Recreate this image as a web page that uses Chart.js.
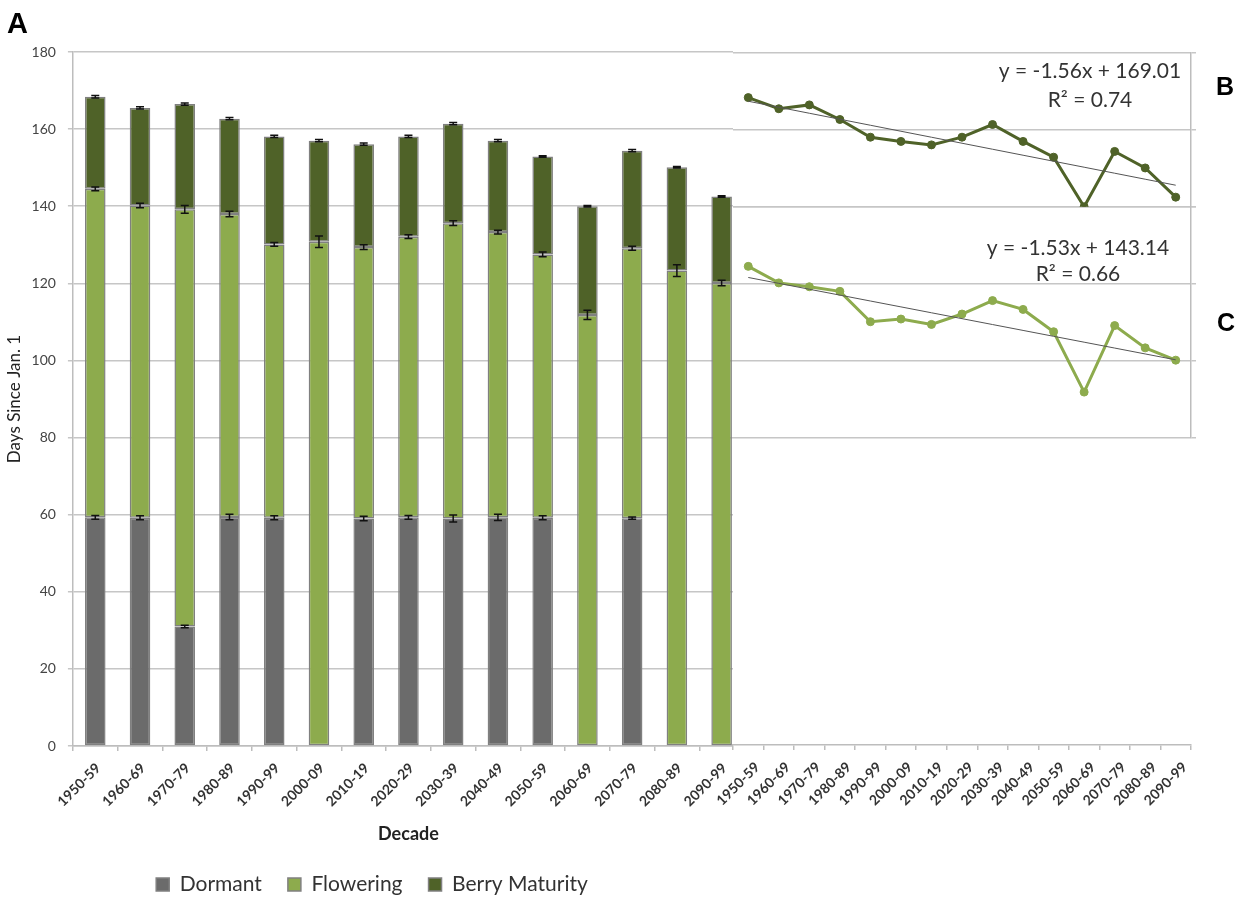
<!DOCTYPE html>
<html>
<head>
<meta charset="utf-8">
<title>Grapevine phenology by decade</title>
<script src="https://cdn.jsdelivr.net/npm/chart.js@4.4.0/dist/chart.umd.min.js"></script>
<style>
  html, body { margin: 0; padding: 0; background: #fff; }
  #wrap { position: relative; width: 1242px; height: 899px; overflow: hidden; background: #fff; }
  #phases { position: absolute; left: 0; top: 0; }
  #trends { position: absolute; left: 700px; top: 0; }
  .panel { position: absolute; font-family: 'Liberation Sans', Arial, sans-serif; font-weight: bold; line-height: 1; color: #000; }
</style>
</head>
<body>
<div id="wrap">
  <canvas id="phases" width="748" height="899"></canvas>
  <canvas id="trends" width="542" height="899"></canvas>
  <div class="panel" style="left:7px;top:9px;font-size:29px">A</div>
  <div class="panel" style="left:1216px;top:74px;font-size:25px">B</div>
  <div class="panel" style="left:1217px;top:310px;font-size:25px">C</div>
</div>
<script>
// Decades on both x axes
const decades = ['1950-59', '1960-69', '1970-79', '1980-89', '1990-99', '2000-09', '2010-19',
  '2020-29', '2030-39', '2040-49', '2050-59', '2060-69', '2070-79', '2080-89', '2090-99'];

// Day of year (since Jan. 1) at which each phase ends; null = phase absent that decade
const dormantEnd   = [59.3, 59.2, 31.0, 59.4, 59.2, null, 59.0, 59.3, 59.0, 59.3, 59.2, null, 59.1, null, null];
const floweringEnd = [144.5, 140.2, 139.2, 138.0, 130.1, 130.8, 129.4, 132.1, 135.6, 133.3, 127.5, 111.8, 129.1, 123.3, 120.1];
const berryEnd     = [168.4, 165.5, 166.5, 162.7, 158.1, 157.0, 156.1, 158.1, 161.4, 157.0, 152.9, 140.0, 154.4, 150.1, 142.5];

// Error bar half-widths (days)
const dormantErr   = [0.5, 0.5, 0.3, 0.7, 0.5, 0, 0.6, 0.5, 0.9, 0.8, 0.5, 0, 0.3, 0, 0];
const floweringErr = [0.5, 0.6, 1.0, 0.7, 0.5, 1.5, 0.6, 0.5, 0.6, 0.5, 0.6, 1.2, 0.5, 1.5, 0.7];
const berryErr     = [0.3, 0.3, 0.3, 0.3, 0.3, 0.3, 0.3, 0.3, 0.3, 0.3, 0.2, 0.2, 0.3, 0.2, 0.2];

// Linear trend fits: [berry maturity, flowering]
const trendSlope     = [-1.56, -1.53];
const trendIntercept = [169.01, 143.14];
const trendR2        = [0.74, 0.66];

const FONT = "Lato, 'Liberation Sans', sans-serif";
const DORMANT = '#6b6b6b';
const FLOWER = '#8dab4d';
const BERRY = '#4f6228';
const GRID = '#c6c6c6';
const AXIS = '#bdbdbd';

Chart.defaults.font.family = FONT;
Chart.defaults.color = '#333';

// Error bars drawn at the end of each phase segment
const errorBars = {
  id: 'errorBars',
  afterDatasetsDraw(chart) {
    const { ctx, scales: { x, y } } = chart;
    const series = [[dormantEnd, dormantErr], [floweringEnd, floweringErr], [berryEnd, berryErr]];
    ctx.save();
    ctx.strokeStyle = '#111';
    ctx.lineWidth = 1.5;
    series.forEach(([vals, errs]) => vals.forEach((v, i) => {
      if (v == null) return;
      const cx = x.getPixelForValue(i);
      const y0 = y.getPixelForValue(v - errs[i]);
      const y1 = y.getPixelForValue(v + errs[i]);
      ctx.beginPath();
      ctx.moveTo(cx, y0); ctx.lineTo(cx, y1);
      ctx.moveTo(cx - 4, y0); ctx.lineTo(cx + 4, y0);
      ctx.moveTo(cx - 4, y1); ctx.lineTo(cx + 4, y1);
      ctx.stroke();
    }));
    ctx.restore();
  }
};

// Stacked phase bars (floating segments start where the previous phase ended)
new Chart(document.getElementById('phases'), {
  type: 'bar',
  data: {
    labels: decades,
    datasets: [
      {
        label: 'Dormant',
        data: dormantEnd.map(v => (v == null ? null : [0, v])),
        backgroundColor: DORMANT
      },
      {
        label: 'Flowering',
        data: floweringEnd.map((v, i) => [dormantEnd[i] ?? 0, v]),
        backgroundColor: FLOWER
      },
      {
        label: 'Berry Maturity',
        data: berryEnd.map((v, i) => [floweringEnd[i], v]),
        backgroundColor: BERRY
      }
    ]
  },
  options: {
    responsive: false,
    animation: false,
    datasets: {
      bar: {
        grouped: false,
        categoryPercentage: 0.46,
        barPercentage: 1,
        borderWidth: 1.5,
        borderColor: '#808080',
        borderSkipped: false
      }
    },
    layout: { padding: { top: 52, left: 0, right: 4, bottom: -6 } },
    scales: {
      x: {
        grid: { drawOnChartArea: false, tickLength: 5, color: AXIS, lineWidth: 1.5, offset: true },
        border: { color: AXIS, width: 1.5 },
        ticks: { minRotation: 45, maxRotation: 45, autoSkip: false, padding: 9, labelOffset: 3,
                 color: '#333', font: { size: 14, weight: 'bold' } },
        title: { display: true, text: 'Decade', color: '#222',
                 font: { size: 18, weight: 'bold' }, padding: { top: 0, bottom: 3 } },
        afterFit(s) { s.height = 102; }
      },
      y: {
        min: 0,
        max: 180,
        ticks: { stepSize: 20, padding: 12, color: '#444', font: { size: 14 } },
        grid: { color: GRID, lineWidth: 1.5, tickLength: 5 },
        border: { color: AXIS, width: 1.5 },
        title: { display: true, text: 'Days Since Jan. 1', color: '#222',
                 font: { size: 17 }, padding: { top: 4, bottom: 0 } },
        afterFit(s) { s.width = 72.9; }
      }
    },
    plugins: {
      legend: {
        position: 'bottom',
        labels: { boxWidth: 13, boxHeight: 13, padding: 26, color: '#333', font: { size: 21 } }
      },
      tooltip: { enabled: false }
    }
  },
  plugins: [errorBars]
});

// White backing for the trend panel's plot region
const panelBacking = {
  id: 'panelBacking',
  beforeDraw(chart) {
    const { ctx, chartArea } = chart;
    ctx.save();
    ctx.fillStyle = '#fff';
    ctx.fillRect(chartArea.left, 0, chart.width - chartArea.left, chartArea.bottom + 7);
    ctx.restore();
  }
};

// Trend equations printed above each series
const equationLabels = {
  id: 'equationLabels',
  afterDatasetsDraw(chart) {
    const { ctx } = chart;
    ctx.save();
    ctx.font = '21px ' + FONT;
    ctx.fillStyle = '#333';
    ctx.textAlign = 'center';
    ctx.textBaseline = 'middle';
    const spots = [[390, 71, 100], [378, 248, 274]];
    spots.forEach(([cx, y1, y2], k) => {
      ctx.fillText(`y = ${trendSlope[k]}x + ${trendIntercept[k]}`, cx, y1);
      ctx.fillText(`R\u00B2 = ${trendR2[k]}`, cx, y2);
    });
    ctx.restore();
  }
};

const trendLine = k => decades.map((_, i) => +(trendSlope[k] * (i + 1) + trendIntercept[k]).toFixed(2));

const sideAxis = (min, max, stackWeight, weight) => ({
  position: 'right',
  stack: 'trend',
  stackWeight,
  weight,
  min,
  max,
  ticks: { display: false, stepSize: 20 },
  grid: { color: GRID, lineWidth: 1.5, tickLength: 5 },
  border: { color: AXIS, width: 1.5 },
  afterFit(s) { s.width = 51; }
});

// Berry maturity (B) and flowering (C) dates with their linear trends
new Chart(document.getElementById('trends'), {
  type: 'line',
  data: {
    labels: decades,
    datasets: [
      { data: trendLine(0), yAxisID: 'yB', borderColor: '#555', borderWidth: 1, pointRadius: 0 },
      { data: trendLine(1), yAxisID: 'yC', borderColor: '#555', borderWidth: 1, pointRadius: 0 },
      { data: berryEnd, yAxisID: 'yB', borderColor: BERRY, backgroundColor: BERRY,
        borderWidth: 3, pointRadius: 4, pointBorderWidth: 1 },
      { data: floweringEnd, yAxisID: 'yC', borderColor: FLOWER, backgroundColor: FLOWER,
        borderWidth: 3, pointRadius: 4, pointBorderWidth: 1 }
    ]
  },
  options: {
    responsive: false,
    animation: false,
    layout: { padding: { top: 53, left: 33, right: 0, bottom: 0 } },
    scales: {
      x: {
        offset: true,
        grid: { offset: true, drawOnChartArea: false, tickLength: 5, color: AXIS, lineWidth: 1.5 },
        border: { color: AXIS, width: 1.5 },
        ticks: { minRotation: 45, maxRotation: 45, autoSkip: false, padding: 9, labelOffset: 9,
                 color: '#333', font: { size: 14, weight: 'bold' } },
        afterFit(s) { s.height = 154; s.paddingLeft = 0; s.paddingRight = 0; }
      },
      yB: sideAxis(140, 180, 2, 1),
      yC: sideAxis(100, 160, 3, 2),
      yPad: {
        position: 'right',
        stack: 'trend',
        stackWeight: 4,
        weight: 3,
        min: 0,
        max: 1,
        ticks: { display: false },
        grid: { display: false },
        border: { display: false },
        afterFit(s) { s.width = 51; }
      }
    },
    plugins: { legend: { display: false }, tooltip: { enabled: false } }
  },
  plugins: [panelBacking, equationLabels]
});
</script>
</body>
</html>
